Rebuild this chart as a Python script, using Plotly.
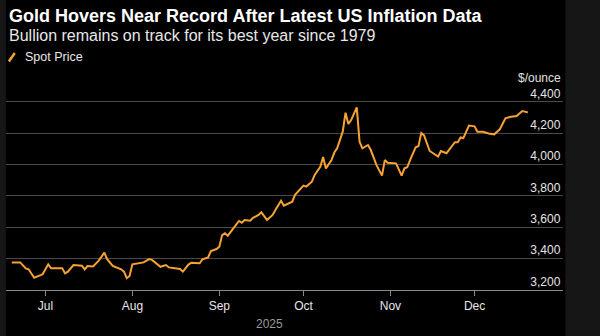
import pandas as pd
import plotly.graph_objects as go

# Spot gold, $/ounce
dates = [
    "2025-06-19", "2025-06-22", "2025-06-24", "2025-06-25", "2025-06-27", "2025-06-29", "2025-06-30",
    "2025-07-02", "2025-07-03", "2025-07-07", "2025-07-08", "2025-07-09", "2025-07-11", "2025-07-14",
    "2025-07-15", "2025-07-16", "2025-07-18", "2025-07-20", "2025-07-22", "2025-07-23", "2025-07-25",
    "2025-07-28", "2025-07-29", "2025-07-30", "2025-07-31", "2025-08-01", "2025-08-03", "2025-08-05",
    "2025-08-07", "2025-08-08", "2025-08-11", "2025-08-13", "2025-08-14", "2025-08-17", "2025-08-18",
    "2025-08-19", "2025-08-21", "2025-08-22", "2025-08-25", "2025-08-26", "2025-08-28", "2025-08-29",
    "2025-08-31", "2025-09-01", "2025-09-02", "2025-09-03", "2025-09-04", "2025-09-06", "2025-09-07",
    "2025-09-08", "2025-09-09", "2025-09-10", "2025-09-12", "2025-09-13", "2025-09-15", "2025-09-16",
    "2025-09-18", "2025-09-20", "2025-09-21", "2025-09-23", "2025-09-24", "2025-09-27", "2025-09-28",
    "2025-10-01", "2025-10-02", "2025-10-04", "2025-10-05", "2025-10-07", "2025-10-08", "2025-10-09",
    "2025-10-11", "2025-10-12", "2025-10-13", "2025-10-14", "2025-10-15", "2025-10-16", "2025-10-17",
    "2025-10-18", "2025-10-20", "2025-10-21", "2025-10-22", "2025-10-24", "2025-10-25", "2025-10-27",
    "2025-10-29", "2025-10-30", "2025-10-31", "2025-11-03", "2025-11-05", "2025-11-06", "2025-11-07",
    "2025-11-08", "2025-11-10", "2025-11-11", "2025-11-12", "2025-11-13", "2025-11-15", "2025-11-18",
    "2025-11-19", "2025-11-21", "2025-11-24", "2025-11-25", "2025-11-26", "2025-11-27", "2025-11-29",
    "2025-12-01", "2025-12-02", "2025-12-04", "2025-12-06", "2025-12-08", "2025-12-10", "2025-12-12",
    "2025-12-14", "2025-12-16", "2025-12-18", "2025-12-20",
]
spot_price = [
    3376, 3376, 3338, 3332, 3278, 3291, 3300,
    3364, 3338, 3338, 3306, 3317, 3359, 3355,
    3332, 3353, 3350, 3387, 3438, 3396, 3353,
    3332, 3317, 3275, 3289, 3364, 3370, 3376,
    3397, 3392, 3348, 3359, 3344, 3338, 3334,
    3317, 3362, 3374, 3370, 3396, 3408, 3448,
    3461, 3476, 3550, 3561, 3546, 3593, 3620,
    3640, 3629, 3646, 3641, 3660, 3678, 3695,
    3646, 3678, 3710, 3769, 3737, 3763, 3806,
    3865, 3859, 3890, 3933, 3985, 4047, 3975,
    4028, 4076, 4103, 4151, 4209, 4330, 4258,
    4283, 4364, 4145, 4103, 4124, 4092, 3997,
    3929, 4028, 4011, 4007, 3929, 3975, 3982,
    4028, 4109, 4117, 4200, 4185, 4086, 4050,
    4086, 4072, 4142, 4142, 4172, 4168, 4248,
    4243, 4209, 4209, 4198, 4192, 4224, 4294,
    4304, 4309, 4340, 4332,
]
y_ticks = [3200, 3400, 3600, 3800, 4000, 4200, 4400]

title = "Gold Hovers Near Record After Latest US Inflation Data"
subtitle = "Bullion remains on track for its best year since 1979"
series_name = "Spot Price"
unit_label = "$/ounce"
year_label = "2025"

W, H = 600, 336
ORANGE = "#f7a233"
FONT = "Liberation Sans, Arial, sans-serif"

# vertical scale: 3,200 sits at y=290px, 4,400 at y=101.7px
Y_LO, Y_HI = 3200, 4520
PX_PER_USD = (290 - 101.7) / 1200
TOP_PX = 290 - (Y_HI - Y_LO) * PX_PER_USD


def px_x(x):
    return x / W


def px_y(y):
    return 1 - y / H


fig = go.Figure()
fig.add_trace(go.Scatter(
    x=pd.to_datetime(dates), y=spot_price, mode="lines", name=series_name,
    line=dict(color=ORANGE, width=2), showlegend=False,
))

# black panel over the dark frame
fig.add_shape(type="rect", xref="paper", yref="paper", layer="below",
              x0=px_x(6), x1=px_x(573), y0=0, y1=1,
              fillcolor="#000000", line_width=0)

# legend swatch (slash) + label
fig.add_shape(type="line", xref="paper", yref="paper",
              x0=px_x(9), y0=px_y(61.5), x1=px_x(15), y1=px_y(53),
              line=dict(color=ORANGE, width=2.5))
fig.add_annotation(x=px_x(23), y=px_y(57), xref="paper", yref="paper",
                   text=series_name, showarrow=False, xanchor="left", yanchor="middle",
                   font=dict(family=FONT, size=12.5, color="#e8e8e8"))

fig.add_annotation(x=px_x(7), y=px_y(16), xref="paper", yref="paper",
                   text="<b>" + title + "</b>", showarrow=False, xanchor="left", yanchor="middle",
                   font=dict(family=FONT, size=18, color="#ffffff"))
fig.add_annotation(x=px_x(7), y=px_y(36), xref="paper", yref="paper",
                   text=subtitle, showarrow=False, xanchor="left", yanchor="middle",
                   font=dict(family=FONT, size=16, color="#e8e8e8"))
fig.add_annotation(x=px_x(571), y=px_y(78), xref="paper", yref="paper",
                   text=unit_label, showarrow=False, xanchor="right", yanchor="middle",
                   font=dict(family=FONT, size=12, color="#e0e0e0"))

# year label centred under the data span
d0, d1 = pd.to_datetime(dates[0]), pd.to_datetime(dates[-1])
mid = d0 + (d1 - d0) / 2
fig.add_annotation(x=mid, y=px_y(324), xref="x", yref="paper",
                   text=year_label, showarrow=False, xanchor="center", yanchor="middle",
                   font=dict(family=FONT, size=12, color="#9a9a9a"))

fig.update_layout(
    width=W, height=H, autosize=False,
    margin=dict(l=0, r=0, t=0, b=0),
    paper_bgcolor="#161616", plot_bgcolor="rgba(0,0,0,0)",
    font=dict(family=FONT, color="#e0e0e0"),
    xaxis=dict(
        domain=[px_x(6), px_x(571)],
        range=["2025-06-16 22:00", "2026-01-01 16:00"],
        type="date", dtick="M1", tick0="2025-07-01", tickformat="%b",
        showgrid=False, zeroline=False,
        showline=True, linecolor="#8a8a8a", linewidth=1,
        ticks="outside", ticklen=5, tickcolor="#8a8a8a", tickwidth=1,
        tickfont=dict(family=FONT, size=12, color="#e6e6e6"),
    ),
    yaxis=dict(
        domain=[px_y(290), px_y(TOP_PX)],
        range=[Y_LO, Y_HI],
        side="right", tickvals=y_ticks, tickformat=",",
        ticklabelposition="inside top",
        showgrid=True, gridcolor="#4a4a4a", gridwidth=1,
        zeroline=False, showline=False, ticks="",
        tickfont=dict(family=FONT, size=12, color="#e6e6e6"),
    ),
)

fig.write_html("out.html")
